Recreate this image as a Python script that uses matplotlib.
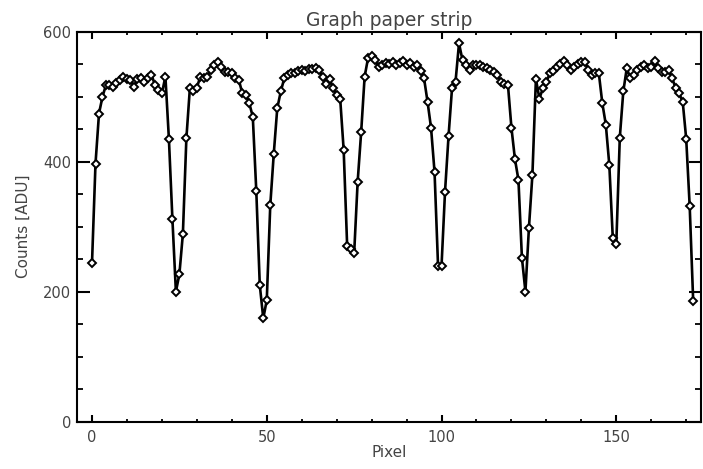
#!/usr/bin/env python

"""
Graph paper strip: counts along one row of pixels, IDL style plot.
"""

import numpy as np
import matplotlib.pyplot as plt
from matplotlib.ticker import MultipleLocator

counts = [
    244, 397, 474, 500, 518, 518, 515, 521, 525, 530,
    527, 525, 515, 527, 529, 522, 529, 534, 518, 510,
    505, 531, 435, 312, 200, 227, 289, 436, 513, 508,
    514, 531, 528, 531, 541, 549, 554, 546, 538, 538,
    536, 528, 526, 505, 503, 490, 469, 355, 210, 159,
    187, 333, 412, 482, 508, 528, 533, 537, 536, 539,
    541, 540, 543, 542, 544, 541, 530, 520, 527, 513,
    503, 497, 418, 270, 265, 259, 369, 445, 531, 560,
    562, 557, 545, 548, 552, 550, 553, 548, 552, 555,
    549, 552, 545, 548, 540, 528, 492, 452, 384, 240,
    240, 354, 439, 513, 523, 582, 556, 549, 541, 549,
    548, 549, 546, 544, 541, 538, 533, 523, 519, 518,
    452, 404, 372, 252, 200, 298, 380, 527, 497, 513,
    523, 536, 540, 546, 550, 555, 548, 541, 545, 550,
    553, 554, 541, 533, 536, 536, 490, 457, 395, 282,
    274, 437, 508, 544, 528, 533, 541, 546, 549, 544,
    546, 555, 544, 538, 538, 541, 528, 513, 505, 492,
    435, 331, 185,
]
pixel = np.arange(len(counts))

x_ticks = [0, 50, 100, 150]
y_ticks = [0, 200, 400, 600]


def main():
    """ main body """
    fig = plt.figure(figsize=(7.03, 4.69), dpi=100)
    ax = fig.add_axes([0.109, 0.101, 0.888, 0.8315])

    # data: black line with open diamonds
    ax.plot(pixel, counts, '-', color='black', lw=1.9,
            marker='D', markersize=4.2, markerfacecolor='white',
            markeredgecolor='black', markeredgewidth=1.4)

    ax.set_xlim(-4.4, 174.2)
    ax.set_ylim(0, 600)
    ax.set_xticks(x_ticks)
    ax.set_yticks(y_ticks)
    ax.xaxis.set_minor_locator(MultipleLocator(10))
    ax.yaxis.set_minor_locator(MultipleLocator(50))

    # IDL look: inward ticks on all four sides
    ax.tick_params(which='both', direction='in', top=True, right=True,
                   colors='black', labelcolor='#444444', labelsize=10.5)
    ax.tick_params(axis='x', which='major', length=5, width=1.5, pad=6)
    ax.tick_params(axis='x', which='minor', length=2.5, width=1.3)
    ax.tick_params(axis='y', which='major', length=9, width=1.5, pad=4)
    ax.tick_params(axis='y', which='minor', length=4.5, width=1.3)
    for side in ax.spines.values():
        side.set_linewidth(1.5)

    ax.set_title('Graph paper strip', fontsize=13.5, color='#444444', pad=4)
    ax.set_xlabel('Pixel', fontsize=11, color='#444444', labelpad=0)
    ax.set_ylabel('Counts [ADU]', fontsize=11, color='#444444', labelpad=9)

    fig.savefig('out.png', dpi=100)


if __name__ == "__main__":
    main()
